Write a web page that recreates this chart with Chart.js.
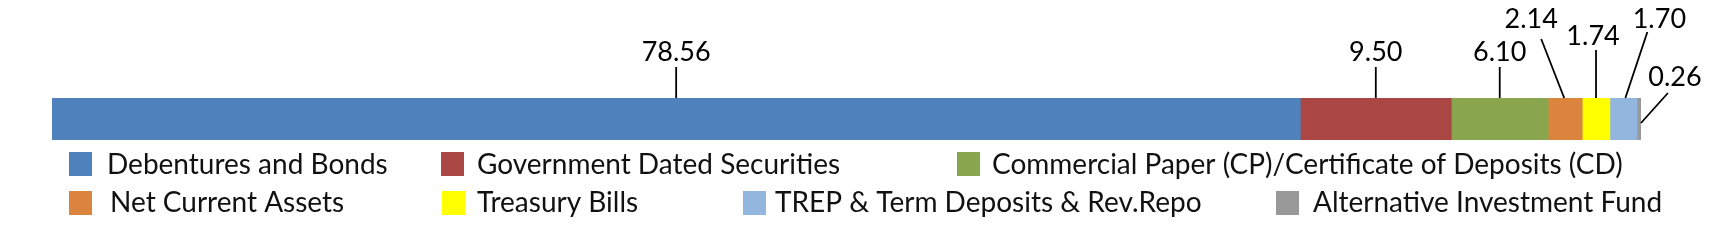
<!DOCTYPE html>
<html>
<head>
<meta charset="utf-8">
<script src="https://cdn.jsdelivr.net/npm/chart.js@4/dist/chart.umd.min.js"></script>
<style>
  html, body { margin: 0; padding: 0; background: #fff; }
  #wrap { width: 1728px; height: 242px; position: relative; }
</style>
</head>
<body>
<div id="wrap"><canvas id="c" width="1728" height="242"></canvas></div>
<script>
// ---- data ----
const categories = ['Portfolio'];
const seriesNames = [
  'Debentures and Bonds',
  'Government Dated Securities',
  'Commercial Paper (CP)/Certificate of Deposits (CD)',
  'Net Current Assets',
  'Treasury Bills',
  'TREP & Term Deposits & Rev.Repo',
  'Alternative Investment Fund'
];
const seriesValues = [78.56, 9.50, 6.10, 2.14, 1.74, 1.70, 0.26];
const valueLabels = ['78.56', '9.50', '6.10', '2.14', '1.74', '1.70', '0.26'];
const seriesColors = ['#4F81BD', '#AA4643', '#89A54E', '#DB843D', '#FFFF00', '#93B6DF', '#999999'];

// ---- layout (styling only) ----
const FONT = 'Lato, "Open Sans", sans-serif';
// text centre offset from segment centre, text y, leader line (x offsets from centre, y absolute)
const labelLayout = [
  { dx: 0,   ty: 52,   l: [0, 67, 0, 98] },
  { dx: 0,   ty: 52,   l: [0, 67, 0, 98] },
  { dx: 0,   ty: 52,   l: [0, 67, 0, 98] },
  { dx: -34, ty: 19.5, l: [-24, 39, -1, 98] },
  { dx: -3,  ty: 36.5, l: [0, 50, 0, 98] },
  { dx: 36,  ty: 19.5, l: [24, 32, 2, 98] },
  { dx: 36,  ty: 77.5, l: [29, 93, 'right', 123] }
];
// legend placement: box left x, text left x, row
const legendLayout = [
  { bx: 69,   tx: 107,  row: 0 },
  { bx: 441,  tx: 477,  row: 0 },
  { bx: 957,  tx: 992,  row: 0 },
  { bx: 69,   tx: 110,  row: 1 },
  { bx: 442,  tx: 477,  row: 1 },
  { bx: 743,  tx: 775,  row: 1 },
  { bx: 1276, tx: 1313, row: 1 }
];
const legendRows = [{ by: 152, ty: 164.5 }, { by: 191, ty: 202.5 }];

const labelPlugin = {
  id: 'leaderLabels',
  afterDatasetsDraw(chart) {
    const ctx = chart.ctx;
    ctx.save();
    ctx.fillStyle = '#000';
    ctx.strokeStyle = '#000';
    ctx.lineWidth = 1.8;
    ctx.font = '27px ' + FONT;
    ctx.textAlign = 'center';
    ctx.textBaseline = 'middle';
    chart.data.datasets.forEach((ds, i) => {
      const bar = chart.getDatasetMeta(i).data[0];
      const c = (bar.x + bar.base) / 2;
      const L = labelLayout[i];
      const x2 = L.l[2] === 'right' ? bar.x : c + L.l[2];
      ctx.beginPath();
      ctx.moveTo(c + L.l[0], L.l[1]);
      ctx.lineTo(x2, L.l[3]);
      ctx.stroke();
      ctx.fillText(valueLabels[i], c + L.dx, L.ty);
    });
    // legend
    ctx.font = '28px ' + FONT;
    ctx.textAlign = 'left';
    seriesNames.forEach((name, i) => {
      const g = legendLayout[i];
      const r = legendRows[g.row];
      ctx.fillStyle = seriesColors[i];
      ctx.fillRect(g.bx, r.by, 23, 24);
      ctx.fillStyle = '#111';
      ctx.fillText(name, g.tx, r.ty);
    });
    ctx.restore();
  }
};

new Chart(document.getElementById('c'), {
  type: 'bar',
  data: {
    labels: categories,
    datasets: seriesNames.map((n, i) => ({
      label: n,
      data: [seriesValues[i]],
      backgroundColor: seriesColors[i],
      borderWidth: 0,
      barPercentage: 1,
      categoryPercentage: 1,
      stack: 's'
    }))
  },
  options: {
    indexAxis: 'y',
    responsive: false,
    animation: false,
    layout: { padding: { left: 52, right: 87, top: 98, bottom: 102 } },
    scales: {
      x: { stacked: true, min: 0, max: 100, display: false },
      y: { stacked: true, display: false }
    },
    plugins: { legend: { display: false }, tooltip: { enabled: false } }
  },
  plugins: [labelPlugin]
});
</script>
</body>
</html>
